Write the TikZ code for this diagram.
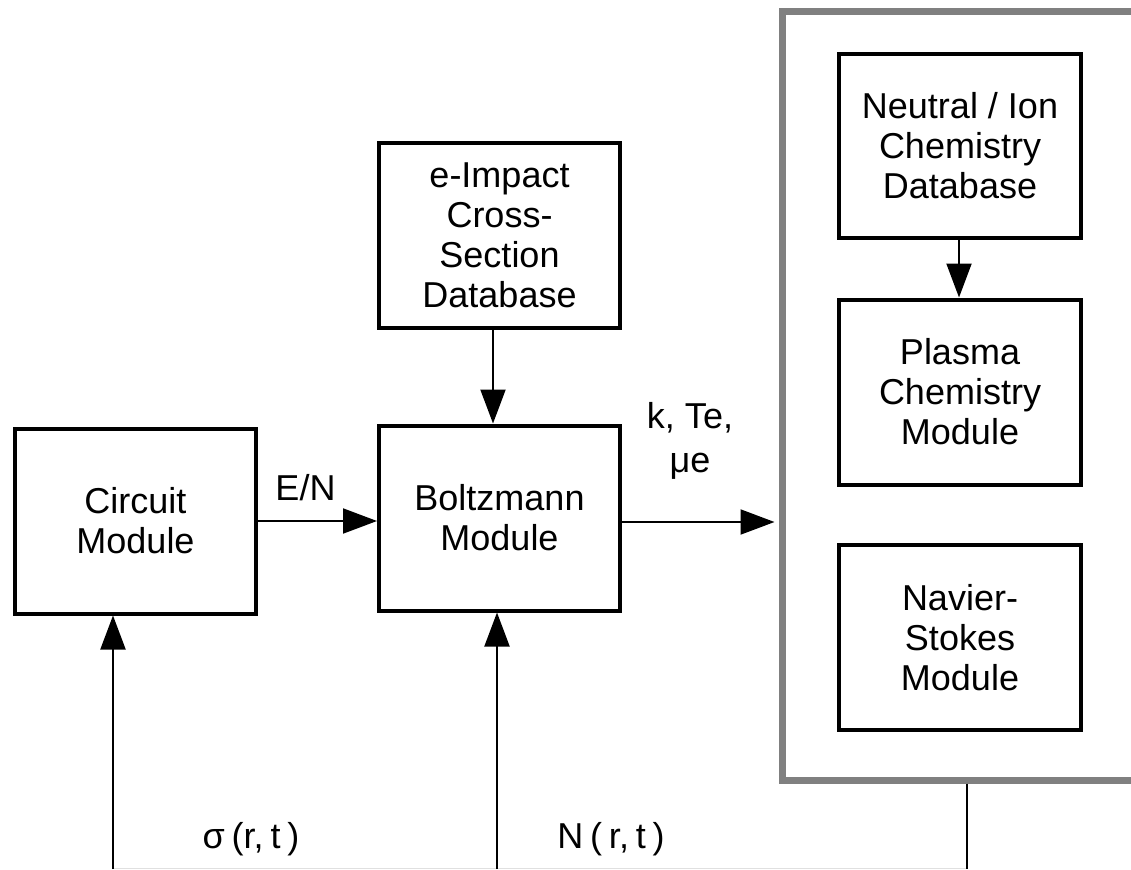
\documentclass[tikz,border=0pt]{standalone}
\usepackage{fontspec}
\setmainfont{Liberation Sans}
\usetikzlibrary{arrows.meta}
\newcommand{\tightsp}{\spaceskip 0.19em\relax}
\tikzset{
  box/.style={draw=black, line width=4pt, fill=white, minimum width=241pt, minimum height=185pt,
    inner sep=0pt, align=center, font=\fontsize{36}{40}\selectfont},
  frame/.style={draw=black!50, line width=7pt, minimum width=418pt, minimum height=768pt, inner sep=0pt},
  arr/.style={line width=2pt, -{Triangle[length=34pt,width=25pt]}},
  plain/.style={line width=2pt},
  lbl/.style={font=\fontsize{36}{44}\selectfont, inner sep=0pt, anchor=base, align=center},
}
\begin{document}
\begin{tikzpicture}[x=1pt,y=-1pt]
\useasboundingbox (0,0) rectangle (1131,869);
\clip (0,0) rectangle (1131,869);
\fill[white] (0,0) rectangle (1131,869);
% right frame
\node[frame] (frame) at (991,396) {};
% boxes
\node[box] (circuit) at (135.5,521) {Circuit\\Module};
\node[box] (boltz) at (499.5,518) {Boltzmann\\Module};
\node[box] (eimpact) at (499.5,235.5) {e-Impact\\Cross-\\Section\\Database};
\node[box, minimum width=242pt, minimum height=184pt] (neutral) at (960,146) {Neutral / Ion\\Chemistry\\Database};
\node[box, minimum width=242pt] (plasma) at (960,392) {Plasma\\Chemistry\\Module};
\node[box, minimum width=242pt] (navier) at (960,637.5) {Navier-\\Stokes\\Module};
% bottom coordinates
\coordinate (b1) at (113,869);
\coordinate (b2) at (497,869);
\coordinate (b3) at (967,869);
\draw[black!12, line width=1.5pt] (113,868.5) -- (967,868.5);
% connectors
\draw[arr] (circuit.east) -- (circuit.east -| boltz.west);
\draw[arr] ([yshift=-4pt]boltz.east) -- ([yshift=-4pt,xshift=-4pt]boltz.east -| frame.west);
\draw[arr] (eimpact.south -| 493,0) -- (boltz.north -| 493,0);
\draw[arr] (neutral.south -| 959,0) -- (plasma.north -| 959,0);
\draw[arr] (b1) -- (b1 |- circuit.south);
\draw[arr] (b2) -- (b2 |- boltz.south);
\draw[plain] (b3 |- frame.south) -- (b3);
% labels
\node[lbl] (en) at (305.5,500.5) {E/N};
\node[lbl] (kte) at (690,472) {k, Te,\\μe};
\node[lbl] (sig) at (251,848) {\tightsp σ (r, t )};
\node[lbl] (nrt) at (611,848) {\tightsp N ( r, t )};
\end{tikzpicture}
\end{document}
